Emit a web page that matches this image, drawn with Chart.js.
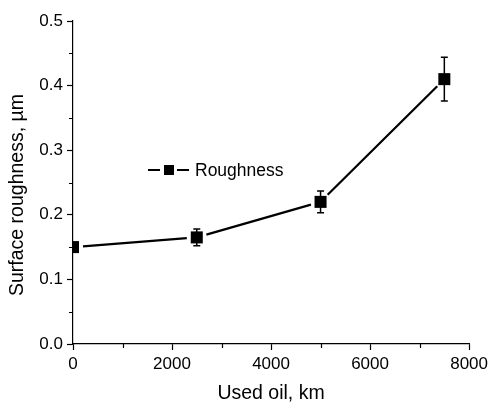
<!DOCTYPE html>
<html>
<head>
<meta charset="utf-8">
<script src="https://cdn.jsdelivr.net/npm/chart.js@4/dist/chart.umd.min.js"></script>
<style>
html,body{margin:0;padding:0;background:#fff;}
#wrap{width:492px;height:403px;position:relative;}
</style>
</head>
<body>
<div id="wrap"><canvas id="c" width="492" height="403"></canvas></div>
<script>
const usedOil = [0, 2500, 5000, 7500];
const roughness = [0.15, 0.165, 0.22, 0.41];
const roughnessErr = [0.007, 0.013, 0.017, 0.034];
const seriesLabel = 'Roughness';
const xTitle = 'Used oil, km';
const yTitle = 'Surface roughness, \u00b5m';
const xMajor = [0, 2000, 4000, 6000, 8000];
const xMinor = [1000, 3000, 5000, 7000];
const yMajor = [0, 0.1, 0.2, 0.3, 0.4, 0.5];
const yMinor = [0.05, 0.15, 0.25, 0.35, 0.45];

const FONT = "'Liberation Sans', Arial, sans-serif";

// connecting line with small gaps around the symbols (Origin style)
const gapLine = {
  id: 'gapLine',
  beforeDatasetsDraw(chart) {
    const pts = chart.getDatasetMeta(0).data;
    const ctx = chart.ctx, ca = chart.chartArea;
    const gap = 10;
    ctx.save();
    ctx.beginPath();
    ctx.rect(ca.left, ca.top, ca.right - ca.left, ca.bottom - ca.top);
    ctx.clip();
    ctx.strokeStyle = '#000';
    ctx.lineWidth = 2.2;
    ctx.beginPath();
    for (let i = 0; i < pts.length - 1; i++) {
      const a = pts[i], b = pts[i + 1];
      const dx = b.x - a.x, dy = b.y - a.y, len = Math.hypot(dx, dy);
      const ux = dx / len, uy = dy / len;
      ctx.moveTo(a.x + ux * gap, a.y + uy * gap);
      ctx.lineTo(b.x - ux * gap, b.y - uy * gap);
    }
    ctx.stroke();
    ctx.restore();
  }
};

const errorBars = {
  id: 'errorBars',
  afterDatasetsDraw(chart) {
    const xs = chart.scales.x, ys = chart.scales.y, ctx = chart.ctx;
    ctx.save();
    ctx.strokeStyle = '#000';
    ctx.lineWidth = 1.5;
    usedOil.forEach((xv, i) => {
      const x = xs.getPixelForValue(xv);
      const y1 = ys.getPixelForValue(roughness[i] + roughnessErr[i]);
      const y2 = ys.getPixelForValue(roughness[i] - roughnessErr[i]);
      if (xv > 0) {
        ctx.beginPath();
        ctx.moveTo(x, y1); ctx.lineTo(x, y2);
        ctx.moveTo(x - 3.5, y1); ctx.lineTo(x + 3.5, y1);
        ctx.moveTo(x - 3.5, y2); ctx.lineTo(x + 3.5, y2);
        ctx.stroke();
      }
    });
    ctx.restore();
  }
};

const extras = {
  id: 'extras',
  afterDraw(chart) {
    const xs = chart.scales.x, ys = chart.scales.y, ctx = chart.ctx;
    const ca = chart.chartArea;
    ctx.save();
    // minor ticks
    ctx.strokeStyle = '#000';
    ctx.lineWidth = 1.2;
    ctx.beginPath();
    xMinor.forEach(v => {
      const x = Math.round(xs.getPixelForValue(v)) + 0.5;
      ctx.moveTo(x, ca.bottom); ctx.lineTo(x, ca.bottom + 4);
    });
    yMinor.forEach(v => {
      const y = Math.round(ys.getPixelForValue(v)) + 0.5;
      ctx.moveTo(ca.left, y); ctx.lineTo(ca.left - 4, y);
    });
    ctx.stroke();
    // y axis title
    ctx.fillStyle = '#000';
    ctx.font = '19.5px ' + FONT;
    ctx.textAlign = 'center';
    ctx.textBaseline = 'middle';
    ctx.translate(18, 195);
    ctx.rotate(-Math.PI / 2);
    ctx.fillText(yTitle, 0, 0);
    ctx.restore();

    // legend inside plot
    const label = chart.data.datasets[0].label;
    const cy = 170;
    ctx.save();
    ctx.strokeStyle = '#000';
    ctx.lineWidth = 2;
    ctx.beginPath();
    ctx.moveTo(148, cy); ctx.lineTo(160, cy);
    ctx.moveTo(177, cy); ctx.lineTo(189, cy);
    ctx.stroke();
    ctx.fillStyle = '#000';
    ctx.fillRect(164, cy - 5, 10, 10);
    ctx.font = '17.5px ' + FONT;
    ctx.textBaseline = 'middle';
    ctx.textAlign = 'left';
    ctx.fillText(label, 195, cy + 1);
    ctx.restore();
  }
};

new Chart(document.getElementById('c'), {
  type: 'line',
  data: {
    datasets: [{
      label: seriesLabel,
      data: usedOil.map((x, i) => ({x: x, y: roughness[i]})),
      showLine: false,
      borderColor: '#000',
      borderWidth: 2,
      pointStyle: 'rect',
      pointRadius: 8.5,
      pointHoverRadius: 8.5,
      pointBackgroundColor: '#000',
      pointBorderColor: '#000',
      pointBorderWidth: 0,
      clip: {left: 1, top: false, right: false, bottom: false}
    }]
  },
  options: {
    responsive: false,
    animation: false,
    events: [],
    layout: {padding: {top: 21, right: 21, left: 0, bottom: 0}},
    plugins: {legend: {display: false}, tooltip: {enabled: false}},
    scales: {
      x: {
        type: 'linear',
        min: 0, max: 8000,
        afterFit(s) { s.height = 59; },
        afterBuildTicks(s) { s.ticks = xMajor.map(v => ({value: v})); },
        border: {display: true, color: '#000', width: 1.2, z: 1},
        grid: {drawOnChartArea: false, drawTicks: true, tickLength: 6, tickColor: '#000', tickWidth: 1.2, z: 1},
        ticks: {color: '#000', font: {family: FONT, size: 17}, padding: 4, maxRotation: 0, autoSkip: false,
                callback: v => String(v)},
        title: {display: true, text: xTitle, color: '#000', font: {family: FONT, size: 19.5}, padding: {top: 0, bottom: -2}}
      },
      y: {
        type: 'linear',
        min: 0, max: 0.5,
        afterFit(s) { s.width = 73; },
        afterBuildTicks(s) { s.ticks = yMajor.map(v => ({value: v})); },
        border: {display: true, color: '#000', width: 1.2, z: 1},
        grid: {drawOnChartArea: false, drawTicks: true, tickLength: 6, tickColor: '#000', tickWidth: 1.2, z: 1},
        ticks: {color: '#000', font: {family: FONT, size: 17}, padding: 4, autoSkip: false,
                callback: v => Number(v).toFixed(1)},
        title: {display: false}
      }
    }
  },
  plugins: [gapLine, errorBars, extras]
});
</script>
</body>
</html>
